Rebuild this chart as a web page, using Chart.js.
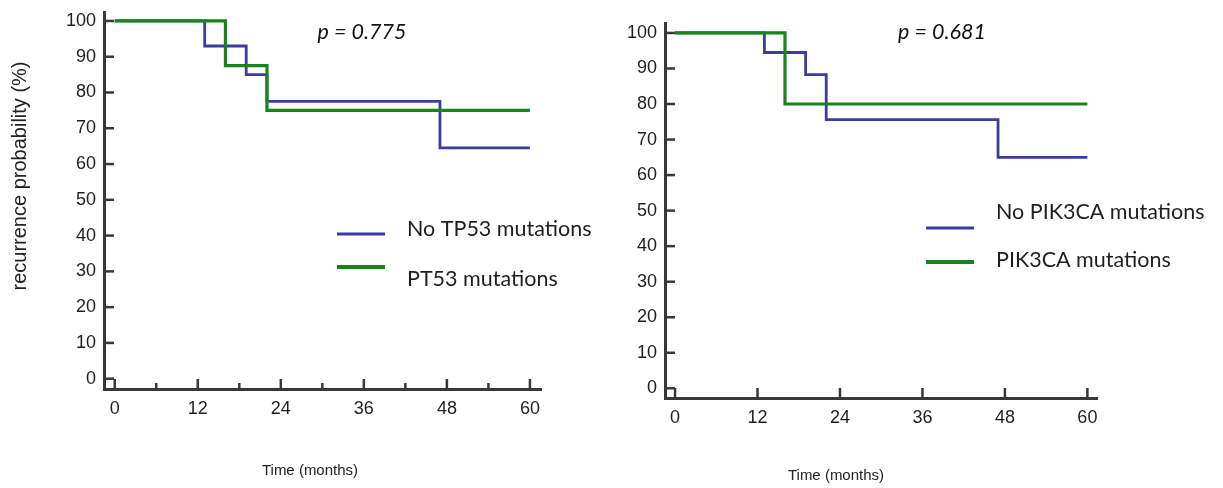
<!DOCTYPE html>
<html>
<head>
<meta charset="utf-8">
<title>Recurrence by mutation status</title>
<script src="https://cdn.jsdelivr.net/npm/chart.js@4.4.1/dist/chart.umd.min.js"></script>
<style>
  body { margin: 0; background: #fff; }
  #wrap { position: relative; width: 1223px; height: 488px; }
  canvas { position: absolute; top: 0; }
</style>
</head>
<body>
<div id="wrap">
  <canvas id="tp53" width="611" height="488" style="left:0"></canvas>
  <canvas id="pik3ca" width="612" height="488" style="left:611px"></canvas>
</div>
<script>
// tick labels
var monthTicks = [0, 12, 24, 36, 48, 60];
var monthMinorTicks = [6, 18, 30, 42, 54];
var percentTicks = [0, 10, 20, 30, 40, 50, 60, 70, 80, 90, 100];

// Kaplan-Meier steps: time (months) where the curve drops, value after the drop
var tp53NoTime = [0, 13, 19, 22, 47, 60];
var tp53NoSurv = [100, 93, 85, 77.5, 64.5, 64.5];
var tp53Time = [0, 16, 22, 60];
var tp53Surv = [100, 87.5, 75, 75];

var pik3caNoTime = [0, 13, 19, 22, 47, 60];
var pik3caNoSurv = [100, 94.5, 88.3, 75.6, 65, 65];
var pik3caTime = [0, 16, 60];
var pik3caSurv = [100, 80, 80];

var BLUE = '#3b3ba0';
var GREEN = '#17861a';
var AXIS = '#383838';
var TICK_FONT = { family: 'Liberation Sans, Arial, sans-serif', size: 18 };

function line(ctx, x1, y1, x2, y2) {
  ctx.beginPath();
  ctx.moveTo(x1, y1);
  ctx.lineTo(x2, y2);
  ctx.stroke();
}

// inward tick marks, p value, legend and axis titles
var kmDecor = {
  id: 'kmDecor',
  beforeDatasetsDraw: function (chart, args, o) {
    var ctx = chart.ctx, xs = chart.scales.x, ys = chart.scales.y;
    ctx.save();
    ctx.strokeStyle = AXIS;
    ctx.lineWidth = 2.5;
    percentTicks.forEach(function (v) {
      var py = ys.getPixelForValue(v);
      line(ctx, xs.left, py, xs.left + 10, py);
    });
    monthTicks.forEach(function (v) {
      var px = xs.getPixelForValue(v);
      line(ctx, px, ys.bottom, px, ys.bottom - 10);
    });
    if (o.minor) {
      monthMinorTicks.forEach(function (v) {
        var px = xs.getPixelForValue(v);
        line(ctx, px, ys.bottom, px, ys.bottom - 6);
      });
    }
    ctx.restore();
  },
  afterDraw: function (chart, args, o) {
    var ctx = chart.ctx;
    ctx.save();
    ctx.textBaseline = 'middle';

    ctx.fillStyle = '#111';
    ctx.textAlign = 'center';
    ctx.font = 'italic 21.5px Lato, "Open Sans", sans-serif';
    ctx.fillText(o.pText, o.pX, o.pY);

    o.legend.forEach(function (item) {
      ctx.strokeStyle = item.color;
      ctx.lineWidth = item.width;
      line(ctx, item.x, item.lineY, item.x + 48, item.lineY);
      ctx.fillStyle = '#1e1e1e';
      ctx.textAlign = 'left';
      ctx.font = '21.5px Lato, "Open Sans", sans-serif';
      ctx.fillText(item.label, item.x + 70, item.textY);
    });

    ctx.fillStyle = '#222';
    ctx.textAlign = 'center';
    ctx.font = '15px "Liberation Sans", Arial, sans-serif';
    ctx.fillText('Time (months)', o.xTitleX, o.xTitleY);
    if (o.yTitle) {
      ctx.translate(o.yTitleX, o.yTitleY);
      ctx.rotate(-Math.PI / 2);
      ctx.font = '20px "Liberation Sans", Arial, sans-serif';
      ctx.fillText(o.yTitle, 0, 0);
    }
    ctx.restore();
  }
};

function steps(time, surv) {
  return time.map(function (t, i) { return { x: t, y: surv[i] }; });
}

function kmChart(id, cfg) {
  return new Chart(document.getElementById(id), {
    type: 'line',
    data: {
      datasets: cfg.series.map(function (s) {
        return {
          label: s.label,
          data: steps(s.time, s.surv),
          borderColor: s.color,
          borderWidth: s.width,
          stepped: 'before',
          pointRadius: 0,
          fill: false
        };
      })
    },
    options: {
      responsive: false,
      animation: false,
      events: [],
      layout: { padding: cfg.padding },
      plugins: {
        legend: { display: false },
        tooltip: { enabled: false },
        kmDecor: cfg.decor
      },
      scales: {
        x: {
          type: 'linear',
          min: cfg.xRange[0],
          max: cfg.xRange[1],
          afterBuildTicks: function (s) { s.ticks = monthTicks.map(function (v) { return { value: v }; }); },
          afterFit: function (s) { s.height = 60; s.paddingLeft = 0; s.paddingRight = 0; },
          grid: { display: false, drawTicks: false },
          border: { display: true, color: AXIS, width: 3 },
          ticks: { color: '#1e1e1e', font: TICK_FONT, padding: 9, maxRotation: 0, autoSkip: false }
        },
        y: {
          type: 'linear',
          min: cfg.yRange[0],
          max: cfg.yRange[1],
          afterBuildTicks: function (s) { s.ticks = percentTicks.map(function (v) { return { value: v }; }); },
          afterFit: function (s) { s.width = cfg.yWidth; s.paddingTop = 0; s.paddingBottom = 0; },
          grid: { display: false, drawTicks: false },
          border: { display: true, color: AXIS, width: 3 },
          ticks: { color: '#1e1e1e', font: TICK_FONT, padding: 8, autoSkip: false }
        }
      }
    },
    plugins: [kmDecor]
  });
}

kmChart('tp53', {
  series: [
    { label: 'PT53 mutations', time: tp53Time, surv: tp53Surv, color: GREEN, width: 3.2 },
    { label: 'No TP53 mutations', time: tp53NoTime, surv: tp53NoSurv, color: BLUE, width: 2.8 }
  ],
  padding: { left: 24, right: 70, top: 12, bottom: 39 },
  yWidth: 80,
  xRange: [-1.55, 61.6],
  yRange: [-2.88, 102.5],
  decor: {
    minor: true,
    pText: 'p = 0.775', pX: 362, pY: 32,
    legend: [
      { label: 'No TP53 mutations', color: BLUE, width: 3, x: 337, lineY: 234, textY: 229 },
      { label: 'PT53 mutations', color: GREEN, width: 4, x: 337, lineY: 267, textY: 279 }
    ],
    xTitleX: 310, xTitleY: 471,
    yTitle: 'recurrence probability (%)', yTitleX: 20, yTitleY: 176
  }
});

kmChart('pik3ca', {
  series: [
    { label: 'PIK3CA mutations', time: pik3caTime, surv: pik3caSurv, color: GREEN, width: 3.2 },
    { label: 'No PIK3CA mutations', time: pik3caNoTime, surv: pik3caNoSurv, color: BLUE, width: 2.8 }
  ],
  padding: { left: 9, right: 126, top: 23, bottom: 30 },
  yWidth: 45,
  xRange: [-1.46, 61.4],
  yRange: [-2.73, 102.8],
  decor: {
    minor: false,
    pText: 'p = 0.681', pX: 331, pY: 32,
    legend: [
      { label: 'No PIK3CA mutations', color: BLUE, width: 3, x: 315, lineY: 228, textY: 212 },
      { label: 'PIK3CA mutations', color: GREEN, width: 4, x: 315, lineY: 262, textY: 260 }
    ],
    xTitleX: 225, xTitleY: 476
  }
});
</script>
</body>
</html>
